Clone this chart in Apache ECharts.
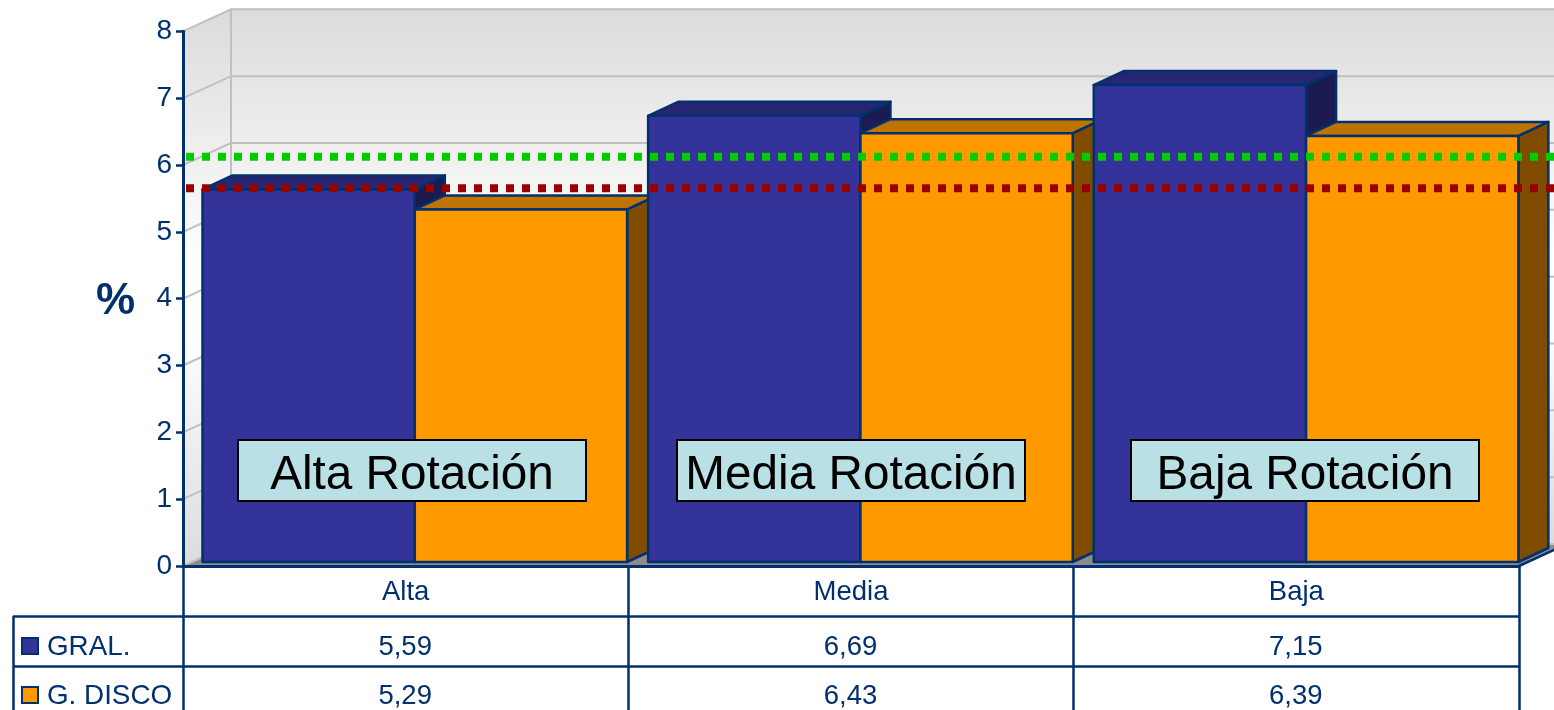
<!DOCTYPE html>
<html>
<head>
<meta charset="utf-8">
<style>html,body{margin:0;padding:0;background:#fff}#c{width:1554px;height:710px}</style>
<script src="https://cdn.jsdelivr.net/npm/echarts@6/dist/echarts.min.js"></script>
</head>
<body>
<div id="c"></div>
<script>
var categories = ['Alta', 'Media', 'Baja'];
var seriesNames = ['GRAL.', 'G. DISCO'];
var gral = [5.59, 6.69, 7.15];
var disco = [5.29, 6.43, 6.39];
var yTicks = [0, 1, 2, 3, 4, 5, 6, 7, 8];
var refGreen = 6.13;
var refRed = 5.66;
var rotationLabels = ['Alta Rotación', 'Media Rotación', 'Baja Rotación'];

var NAVY = '#00306e', FONT = '"Liberation Sans", Arial, sans-serif';
var fills = [
  {front: '#333399', top: '#262673', side: '#1b1b52'},
  {front: '#ff9900', top: '#bf7300', side: '#7f4c00'}
];
var values = [gral, disco];

var barData = [], cellData = [];
categories.forEach(function (c, i) {
  values.forEach(function (v, s) {
    barData.push([i, v[i], s]);
    cellData.push([i, v[i], s]);
  });
});

var WALL = {dx: 48, dy: -22}, BAR = {dx: 30, dy: -14, ox: 19.5, oy: -3, w: 212.3};

function wallItem(params, api) {
  var o = api.coord([0, 0]), band = api.size([1, 0])[0];
  var x0 = o[0] - band / 2, x1 = x0 + band * 3;
  var t = api.coord([0, 8])[1], b = o[1];
  var grad = {type: 'linear', x: 0, y: 0, x2: 0, y2: 1, colorStops: [
    {offset: 0, color: '#dbdbdb'}, {offset: 0.46, color: '#ffffff'}, {offset: 0.6, color: '#fdfdfd'}, {offset: 1, color: '#dcdcdc'}]};
  return {type: 'group', children: [
    {type: 'rect', shape: {x: x0 + WALL.dx, y: t + WALL.dy, width: band * 3 + 20, height: b - t}, style: {fill: grad}},
    {type: 'polygon', shape: {points: [[x0, t], [x0 + WALL.dx, t + WALL.dy], [x0 + WALL.dx, b + WALL.dy], [x0, b]]}, style: {fill: grad}},
    {type: 'polygon', shape: {points: [[x0, b], [x0 + WALL.dx, b + WALL.dy], [x1 + WALL.dx, b + WALL.dy], [x1, b]]}, style: {fill: '#8c8c8c'}},
    {type: 'line', shape: {x1: x0 + WALL.dx, y1: t + WALL.dy, x2: x0 + WALL.dx, y2: b + WALL.dy}, style: {stroke: '#c0c0c0', lineWidth: 2}},
    {type: 'line', shape: {x1: x1, y1: b, x2: x1 + WALL.dx, y2: b + WALL.dy}, style: {stroke: NAVY, lineWidth: 2.5}}
  ]};
}

function gridItem(params, api) {
  var o = api.coord([0, api.value(0)]), band = api.size([1, 0])[0];
  var x0 = o[0] - band / 2, y = o[1];
  return {type: 'group', children: [
    {type: 'polyline', shape: {points: [[x0, y], [x0 + WALL.dx, y + WALL.dy], [x0 + band * 3 + WALL.dx, y + WALL.dy]]},
     style: {stroke: '#c0c0c0', lineWidth: 2, fill: null}}
  ]};
}

function barItem(params, api) {
  var i = api.value(0), v = api.value(1), s = api.value(2);
  var c = api.coord([i, v]), z = api.coord([i, 0]), band = api.size([1, 0])[0];
  var x = z[0] - band / 2 + BAR.ox + i * 0.3 + s * BAR.w, x2 = x + BAR.w;
  var y = c[1] + BAR.oy, b = z[1] - 4, f = fills[s];
  var st = function (col) { return {fill: col, stroke: NAVY, lineWidth: 2.5, lineJoin: 'round'}; };
  return {type: 'group', children: [
    {type: 'polygon', shape: {points: [[x2, y], [x2 + BAR.dx, y + BAR.dy], [x2 + BAR.dx, b + BAR.dy], [x2, b]]}, style: st(f.side)},
    {type: 'polygon', shape: {points: [[x, y], [x + BAR.dx, y + BAR.dy], [x2 + BAR.dx, y + BAR.dy], [x2, y]]}, style: st(f.top)},
    {type: 'rect', shape: {x: x, y: y, width: BAR.w, height: b - y}, style: st(f.front)}
  ]};
}

function refItem(color) {
  return function (params, api) {
    var c = api.coord([0, api.value(0)]), band = api.size([1, 0])[0];
    var x0 = c[0] - band / 2 + 3;
    return {type: 'line', shape: {x1: x0, y1: c[1] + 0.5, x2: x0 + band * 3 + 60, y2: c[1] + 0.5},
      style: {stroke: color, lineWidth: 8, lineDash: [8, 8], lineCap: 'butt'}};
  };
}

var ROW_Y = [645, 694];
var TEXT_Y = [647, 696];
function cellItem(params, api) {
  var i = api.value(0), s = api.value(2), z = api.coord([i, 0]);
  return {type: 'text', style: {x: z[0] - 0.5, y: TEXT_Y[s], text: api.value(1).toFixed(2).replace('.', ','),
    fill: NAVY, font: '27.5px ' + FONT, align: 'center', verticalAlign: 'middle'}};
}

var graphics = [
  {type: 'line', shape: {x1: 13, y1: 616.5, x2: 1519, y2: 616.5}, style: {stroke: NAVY, lineWidth: 2.5}, z: 20},
  {type: 'line', shape: {x1: 13, y1: 666.5, x2: 1519, y2: 666.5}, style: {stroke: NAVY, lineWidth: 2.5}, z: 20},
  {type: 'line', shape: {x1: 13.5, y1: 616, x2: 13.5, y2: 710}, style: {stroke: NAVY, lineWidth: 2.5}, z: 20},
  {type: 'text', style: {x: 115.5, y: 302, text: '%', fill: NAVY, font: 'bold 44px ' + FONT, align: 'center', verticalAlign: 'middle'}, z: 20}
];
seriesNames.forEach(function (n, s) {
  graphics.push({type: 'rect', shape: {x: 22, y: ROW_Y[s] - 7, width: 16, height: 16},
    style: {fill: fills[s].front, stroke: NAVY, lineWidth: 2}, z: 20});
  graphics.push({type: 'text', style: {x: 47, y: TEXT_Y[s], text: n, fill: NAVY, font: '27.8px ' + FONT, verticalAlign: 'middle'}, z: 20});
});
var boxLefts = [238, 677, 1131];
rotationLabels.forEach(function (t, i) {
  graphics.push({type: 'rect', shape: {x: boxLefts[i], y: 440, width: 348, height: 61},
    style: {fill: '#b9e0e4', stroke: '#000', lineWidth: 2}, z: 30});
  graphics.push({type: 'text', style: {x: boxLefts[i] + 174, y: 476, text: t, fill: '#000', font: '47.7px ' + FONT, align: 'center', verticalAlign: 'middle'}, z: 31});
});

var chart = echarts.init(document.getElementById('c'), null, {renderer: 'canvas'});
chart.setOption({
  animation: false,
  backgroundColor: '#ffffff',
  grid: {left: 183, top: 31.3, width: 1336, height: 534.7, containLabel: false},
  graphic: graphics,
  xAxis: {
    type: 'category', data: categories, position: 'bottom', z: 10,
    axisLine: {lineStyle: {color: NAVY, width: 3}},
    axisTick: {show: true, alignWithLabel: false, length: 150, lineStyle: {color: NAVY, width: 2.5}},
    axisLabel: {color: NAVY, fontFamily: 'Liberation Sans', fontSize: 27.5, margin: 12},
    splitLine: {show: false}
  },
  yAxis: {
    type: 'value', min: 0, max: 8, interval: 1, z: 10,
    axisLine: {show: true, lineStyle: {color: NAVY, width: 3}},
    axisTick: {show: true, length: 7, lineStyle: {color: NAVY, width: 2.5}},
    axisLabel: {color: NAVY, fontFamily: 'Liberation Sans', fontSize: 28, margin: 11, padding: [7, 0, 0, 0]},
    splitLine: {show: false}
  },
  series: [
    {type: 'custom', name: 'wall', renderItem: wallItem, data: [[0]], z: 1, silent: true, encode: {x: -1, y: -1}},
    {type: 'custom', name: 'grid', renderItem: gridItem, data: yTicks.map(function (t) { return [t]; }), z: 2, silent: true, encode: {y: 0, x: -1}},
    {type: 'custom', name: 'bars', renderItem: barItem, data: barData, z: 3, silent: true, encode: {x: 0, y: 1}},
    {type: 'custom', name: 'refGreen', renderItem: refItem('#00cc00'), data: [[refGreen]], z: 5, silent: true, encode: {y: 0, x: -1}},
    {type: 'custom', name: 'refRed', renderItem: refItem('#990000'), data: [[refRed]], z: 5, silent: true, encode: {y: 0, x: -1}},
    {type: 'custom', name: 'cells', renderItem: cellItem, data: cellData, z: 20, silent: true, encode: {x: 0, y: 1}}
  ]
});
</script>
</body>
</html>
